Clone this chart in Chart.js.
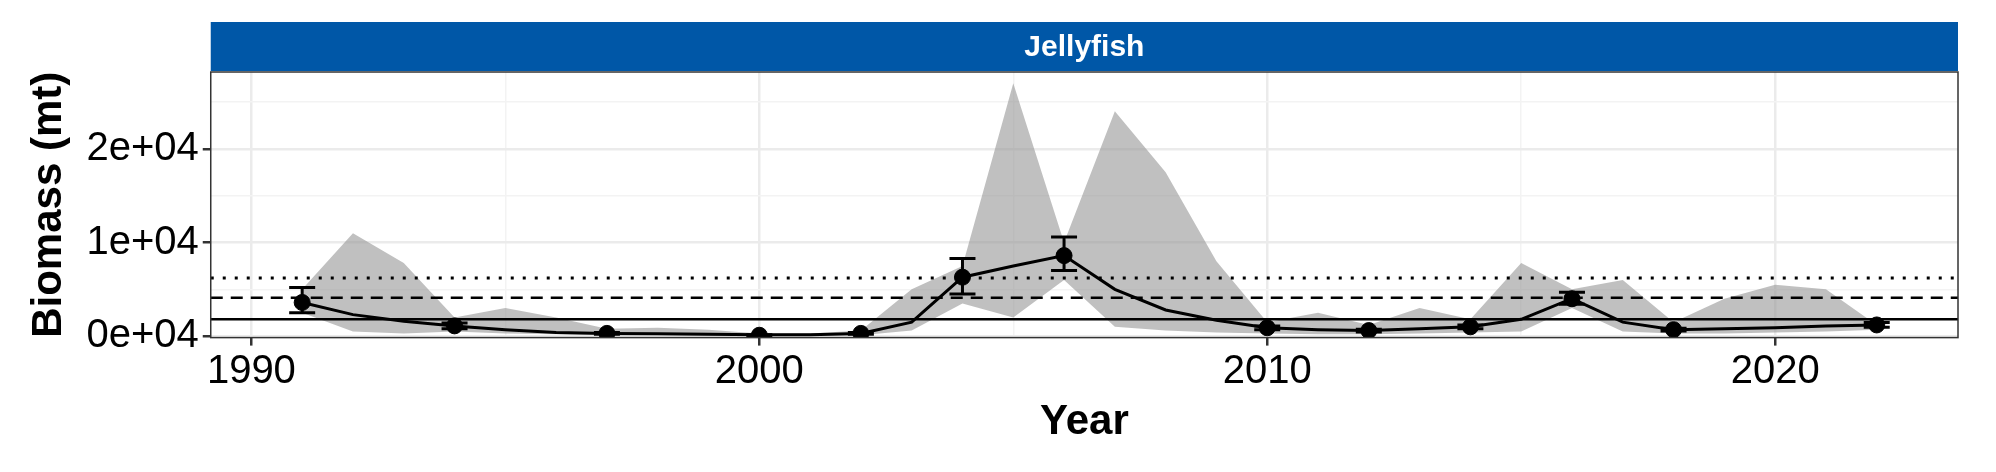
<!DOCTYPE html>
<html><head><meta charset="utf-8">
<script src="https://cdn.jsdelivr.net/npm/chart.js@4"></script>
<style>body{margin:0;background:#fff}#wrap{width:1996px;height:472px}</style>
</head><body><div id="wrap"><canvas id="c"></canvas></div>
<script>
const years = [1991,1992,1993,1994,1995,1996,1997,1998,1999,2000,2001,2002,2003,2004,2005,2006,2007,2008,2009,2010,2011,2012,2013,2014,2015,2016,2017,2018,2019,2020,2021,2022];
const estimate = [3600,2300,1600,1100,700,400,300,250,200,150,150,300,1500,6300,7500,8600,5000,2800,1700,900,700,600,800,1000,1800,4000,1500,700,800,900,1100,1200];
const upper = [5000,11000,7800,2000,3000,2000,800,900,700,300,300,600,5000,7500,27000,10000,24000,17500,8000,1500,2500,1200,3000,1800,7800,5000,6000,1500,4000,5500,5000,1200];
const lower = [2500,500,300,500,300,200,100,100,50,50,50,100,600,3500,2000,6000,1000,600,400,300,200,200,300,400,500,3000,500,300,300,400,500,700];
const obsYears = [1991,1994,1997,2000,2002,2004,2006,2010,2012,2014,2016,2018,2022];
const obsValues = [3600,1100,300,100,300,6300,8600,900,600,1000,4000,700,1200];
const obsLow = [2500,800,200,50,200,4500,7000,700,450,800,3400,550,950];
const obsHigh = [5200,1400,400,150,400,8300,10600,1100,750,1200,4700,850,1450];
const refSolid = 1800, refDashed = 4100, refDotted = 6200;
const xMin = 1989.2, xMax = 2023.6;
const title = "Jellyfish";

const pts = (xs, ys) => xs.map((x, i) => ({x, y: ys[i]}));
const hline = v => [{x: xMin, y: v}, {x: xMax, y: v}];
const FONT = "Arial, 'Liberation Sans'";

const decor = {
  id: "decor",
  afterDraw(chart) {
    const {ctx, chartArea: a, scales: {x, y}} = chart;
    ctx.save();
    // error bars
    ctx.strokeStyle = "#000"; ctx.lineWidth = 3;
    obsYears.forEach((yr, i) => {
      const px = x.getPixelForValue(yr), lo = y.getPixelForValue(obsLow[i]), hi = y.getPixelForValue(obsHigh[i]);
      ctx.beginPath();
      ctx.moveTo(px, lo); ctx.lineTo(px, hi);
      ctx.moveTo(px - 13, lo); ctx.lineTo(px + 13, lo);
      ctx.moveTo(px - 13, hi); ctx.lineTo(px + 13, hi);
      ctx.stroke();
    });
    // panel border
    ctx.strokeStyle = "#333"; ctx.lineWidth = 1.5;
    ctx.strokeRect(a.left, a.top, a.right - a.left, a.bottom - a.top);
    // strip
    ctx.fillStyle = "#0057A7";
    ctx.fillRect(a.left, 22, a.right - a.left, a.top - 23);
    ctx.fillStyle = "#fff"; ctx.font = "bold 30px " + FONT;
    ctx.textAlign = "center"; ctx.textBaseline = "middle";
    ctx.fillText(title, (a.left + a.right) / 2, (22 + a.top) / 2 + 1);
    ctx.restore();
  }
};

new Chart(document.getElementById("c"), {
  type: "scatter",
  data: {
    datasets: [
      {order: 10, data: pts(years, lower), showLine: true, pointRadius: 0, borderWidth: 0, borderColor: "rgba(0,0,0,0)", fill: false},
      {order: 9, data: pts(years, upper), showLine: true, pointRadius: 0, borderWidth: 0, borderColor: "rgba(0,0,0,0)", backgroundColor: "rgba(150,150,150,0.6)", fill: "-1"},
      {order: 5, data: hline(refSolid), showLine: true, pointRadius: 0, borderColor: "#000", borderWidth: 2.5},
      {order: 5, data: hline(refDashed), showLine: true, pointRadius: 0, borderColor: "#000", borderWidth: 2.5, borderDash: [12, 8]},
      {order: 5, data: hline(refDotted), showLine: true, pointRadius: 0, borderColor: "#000", borderWidth: 3, borderDash: [3, 9]},
      {order: 2, data: pts(years, estimate), showLine: true, pointRadius: 0, borderColor: "#000", borderWidth: 3},
      {order: 1, data: pts(obsYears, obsValues), pointRadius: 8, backgroundColor: "#000", borderColor: "#000"}
    ]
  },
  options: {
    responsive: true, maintainAspectRatio: false, animation: false,
    layout: {padding: {top: 72, right: 38, left: 20, bottom: 20}},
    plugins: {legend: {display: false}, tooltip: {enabled: false}},
    scales: {
      x: {
        type: "linear", min: xMin, max: xMax,
        afterBuildTicks: s => { s.ticks = [1990,1995,2000,2005,2010,2015,2020].map(v => ({value: v})); },
        grid: {color: c => c.tick && c.tick.value % 10 === 0 ? "#ebebeb" : "#f3f3f3", lineWidth: c => c.tick && c.tick.value % 10 === 0 ? 2.5 : 1.5,
               tickColor: c => c.tick && c.tick.value % 10 === 0 ? "#333" : "rgba(0,0,0,0)", tickLength: 8},
        border: {display: false},
        ticks: {color: "#000", font: {size: 40, family: FONT}, maxRotation: 0, padding: 2,
                callback: v => v % 10 === 0 ? String(v) : ""},
        title: {display: true, text: "Year", color: "#000", font: {size: 42, weight: "bold", family: FONT}, padding: {top: 0}}
      },
      y: {
        min: -150, max: 28200,
        afterBuildTicks: s => { s.ticks = [0,5000,10000,15000,20000,25000].map(v => ({value: v})); },
        grid: {color: c => c.tick && c.tick.value % 10000 === 0 ? "#ebebeb" : "#f3f3f3", lineWidth: c => c.tick && c.tick.value % 10000 === 0 ? 2.5 : 1.5,
               tickColor: c => c.tick && c.tick.value % 10000 === 0 ? "#333" : "rgba(0,0,0,0)", tickLength: 8},
        border: {display: false},
        ticks: {color: "#000", font: {size: 40, family: FONT}, padding: 4,
                callback: v => v % 10000 === 0 ? (v / 10000) + "e+04" : ""},
        title: {display: true, text: "Biomass (mt)", color: "#000", font: {size: 42, weight: "bold", family: FONT}, padding: {bottom: 8}}
      }
    }
  },
  plugins: [decor]
});
</script></body></html>
